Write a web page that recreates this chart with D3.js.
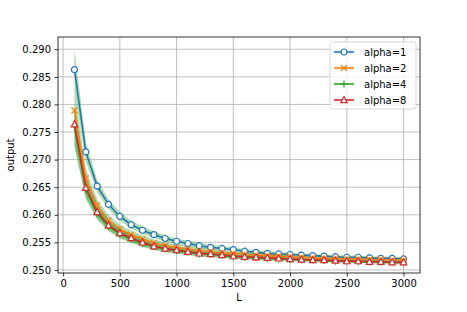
<!DOCTYPE html>
<html>
<head>
<meta charset="utf-8">
<script src="https://cdn.jsdelivr.net/npm/d3@7"></script>
<style>
  body { margin: 0; background: #fff; }
  text { font-family: "DejaVu Sans", sans-serif; }
</style>
</head>
<body>
<div id="chart"></div>
<script>
// data
var L = d3.range(1, 31).map(function(i) { return i * 100; });
var alpha1 = [0.2863,0.2714,0.2652,0.2619,0.2597,0.2582,0.2572,0.2564,0.2557,0.2552,0.2548,0.2544,0.2541,0.2539,0.2537,0.2534,0.2532,0.2530,0.2529,0.2528,0.2527,0.2526,0.2525,0.2524,0.2523,0.2523,0.2522,0.2521,0.2521,0.2520];
var alpha2 = [0.2789,0.2666,0.2617,0.2590,0.2574,0.2564,0.2556,0.2549,0.2544,0.2541,0.2538,0.2535,0.2533,0.2531,0.2530,0.2528,0.2527,0.2526,0.2525,0.2524,0.2523,0.2522,0.2521,0.2521,0.2520,0.2520,0.2519,0.2519,0.2518,0.2518];
var alpha4 = [0.2760,0.2646,0.2602,0.2579,0.2565,0.2556,0.2548,0.2542,0.2538,0.2535,0.2532,0.2529,0.2528,0.2526,0.2524,0.2523,0.2522,0.2521,0.2520,0.2519,0.2518,0.2518,0.2517,0.2516,0.2516,0.2515,0.2515,0.2514,0.2514,0.2513];
var alpha8 = [0.2764,0.2649,0.2605,0.2581,0.2567,0.2558,0.2550,0.2543,0.2539,0.2536,0.2533,0.2530,0.2529,0.2527,0.2525,0.2524,0.2523,0.2522,0.2521,0.2520,0.2519,0.2518,0.2518,0.2517,0.2516,0.2516,0.2515,0.2515,0.2514,0.2514];
// half width of the shaded band
var spread = [0.0037,0.0018,0.0011,0.0009,0.0008,0.0007,0.0007,0.0006,0.0006,0.0005,0.0005,0.0005,0.0005,0.0004,0.0004,0.0004,0.0004,0.0004,0.0004,0.0003,0.0003,0.0003,0.0003,0.0003,0.0003,0.0003,0.0003,0.0003,0.0003,0.0003];
var labels = ["alpha=1", "alpha=2", "alpha=4", "alpha=8"];
var xTicks = [0, 500, 1000, 1500, 2000, 2500, 3000];
var yTicks = [0.250, 0.255, 0.260, 0.265, 0.270, 0.275, 0.280, 0.285, 0.290];

var series = [
  {name: labels[0], values: alpha1, color: "#1f77b4", marker: "circle"},
  {name: labels[1], values: alpha2, color: "#ff7f0e", marker: "x"},
  {name: labels[2], values: alpha4, color: "#2ca02c", marker: "plus"},
  {name: labels[3], values: alpha8, color: "#d62728", marker: "tri"}
];

var W = 467, H = 312;
var margin = {top: 37, right: 47, bottom: 39, left: 58};
var width = W - margin.left - margin.right,
    height = H - margin.top - margin.bottom;

var svg = d3.select("#chart").append("svg")
    .attr("width", W).attr("height", H);
var g = svg.append("g")
    .attr("transform", "translate(" + margin.left + "," + margin.top + ")");

var x = d3.scaleLinear().domain([-45, 3145]).range([0, width]);
var y = d3.scaleLinear().domain([0.24945, 0.29222]).range([height, 0]);

// grid
g.append("g").selectAll("line").data(xTicks).enter().append("line")
  .attr("x1", function(d) { return x(d); }).attr("x2", function(d) { return x(d); })
  .attr("y1", 0).attr("y2", height)
  .attr("stroke", "#b0b0b0").attr("stroke-width", 0.8);
g.append("g").selectAll("line").data(yTicks).enter().append("line")
  .attr("y1", function(d) { return y(d); }).attr("y2", function(d) { return y(d); })
  .attr("x1", 0).attr("x2", width)
  .attr("stroke", "#b0b0b0").attr("stroke-width", 0.8);

// bands
var area = d3.area()
  .x(function(d) { return x(d.L); })
  .y0(function(d) { return y(d.v - d.s); })
  .y1(function(d) { return y(d.v + d.s); });
series.forEach(function(s) {
  var pts = L.map(function(l, i) { return {L: l, v: s.values[i], s: spread[i]}; });
  g.append("path").datum(pts)
    .attr("d", area)
    .attr("fill", "#2ca02c").attr("fill-opacity", 0.38);
});

var line = d3.line()
  .x(function(d) { return x(d.L); })
  .y(function(d) { return y(d.v); });

function drawMarker(sel, type, color) {
  if (type == "circle") {
    sel.append("circle").attr("r", 3).attr("fill", "#fff")
      .attr("stroke", color).attr("stroke-width", 1.2);
  } else if (type == "x") {
    sel.append("path").attr("d", "M-3,-3L3,3M-3,3L3,-3")
      .attr("stroke", color).attr("stroke-width", 1.2);
  } else if (type == "plus") {
    sel.append("path").attr("d", "M-3.5,0L3.5,0M0,-3.5L0,3.5")
      .attr("stroke", color).attr("stroke-width", 1.2);
  } else {
    sel.append("path").attr("d", "M0,-3.5L3.2,2.6L-3.2,2.6Z").attr("fill", "#fff")
      .attr("stroke", color).attr("stroke-width", 1.2);
  }
}

series.forEach(function(s) {
  var pts = L.map(function(l, i) { return {L: l, v: s.values[i]}; });
  g.append("path").datum(pts)
    .attr("d", line)
    .attr("fill", "none").attr("stroke", s.color).attr("stroke-width", 1.6);
  g.append("g").selectAll("g").data(pts).enter().append("g")
    .attr("transform", function(d) { return "translate(" + x(d.L) + "," + y(d.v) + ")"; })
    .each(function() { drawMarker(d3.select(this), s.marker, s.color); });
});

// axes
var xAxis = g.append("g")
  .attr("transform", "translate(0," + height + ")")
  .call(d3.axisBottom(x).tickValues(xTicks).tickSize(3.5).tickPadding(3.5).tickFormat(d3.format("d")));
var yAxis = g.append("g")
  .call(d3.axisLeft(y).tickValues(yTicks).tickSize(3.5).tickPadding(3.5).tickFormat(d3.format(".3f")));
[xAxis, yAxis].forEach(function(a) {
  a.select(".domain").remove();
  a.selectAll("text").attr("font-size", 10).attr("fill", "#000")
    .attr("font-family", "DejaVu Sans");
  a.selectAll("line").attr("stroke", "#000").attr("stroke-width", 0.8);
});

// frame
g.append("rect").attr("width", width).attr("height", height)
  .attr("fill", "none").attr("stroke", "#000").attr("stroke-width", 0.8);

// axis labels
svg.append("text")
  .attr("x", margin.left + width / 2).attr("y", H - 11)
  .attr("text-anchor", "middle").attr("font-size", 10)
  .text("L");
svg.append("text")
  .attr("transform", "translate(14," + (margin.top + height / 2) + ")rotate(-90)")
  .attr("text-anchor", "middle").attr("font-size", 10)
  .text("output");

// legend
var leg = g.append("g").attr("transform", "translate(" + (width - 90) + ",5)");
leg.append("rect").attr("width", 86).attr("height", 67).attr("rx", 2.5)
  .attr("fill", "#fff").attr("fill-opacity", 0.8)
  .attr("stroke", "#cccccc").attr("stroke-width", 0.8);
series.forEach(function(s, i) {
  var row = leg.append("g").attr("transform", "translate(0," + (10 + i * 16) + ")");
  row.append("line").attr("x1", 4).attr("x2", 24)
    .attr("stroke", s.color).attr("stroke-width", 1.6);
  var m = row.append("g").attr("transform", "translate(14,0)");
  drawMarker(m, s.marker, s.color);
  row.append("text").attr("x", 34).attr("dy", "0.35em")
    .attr("font-size", 10).text(s.name);
});
</script>
</body>
</html>
